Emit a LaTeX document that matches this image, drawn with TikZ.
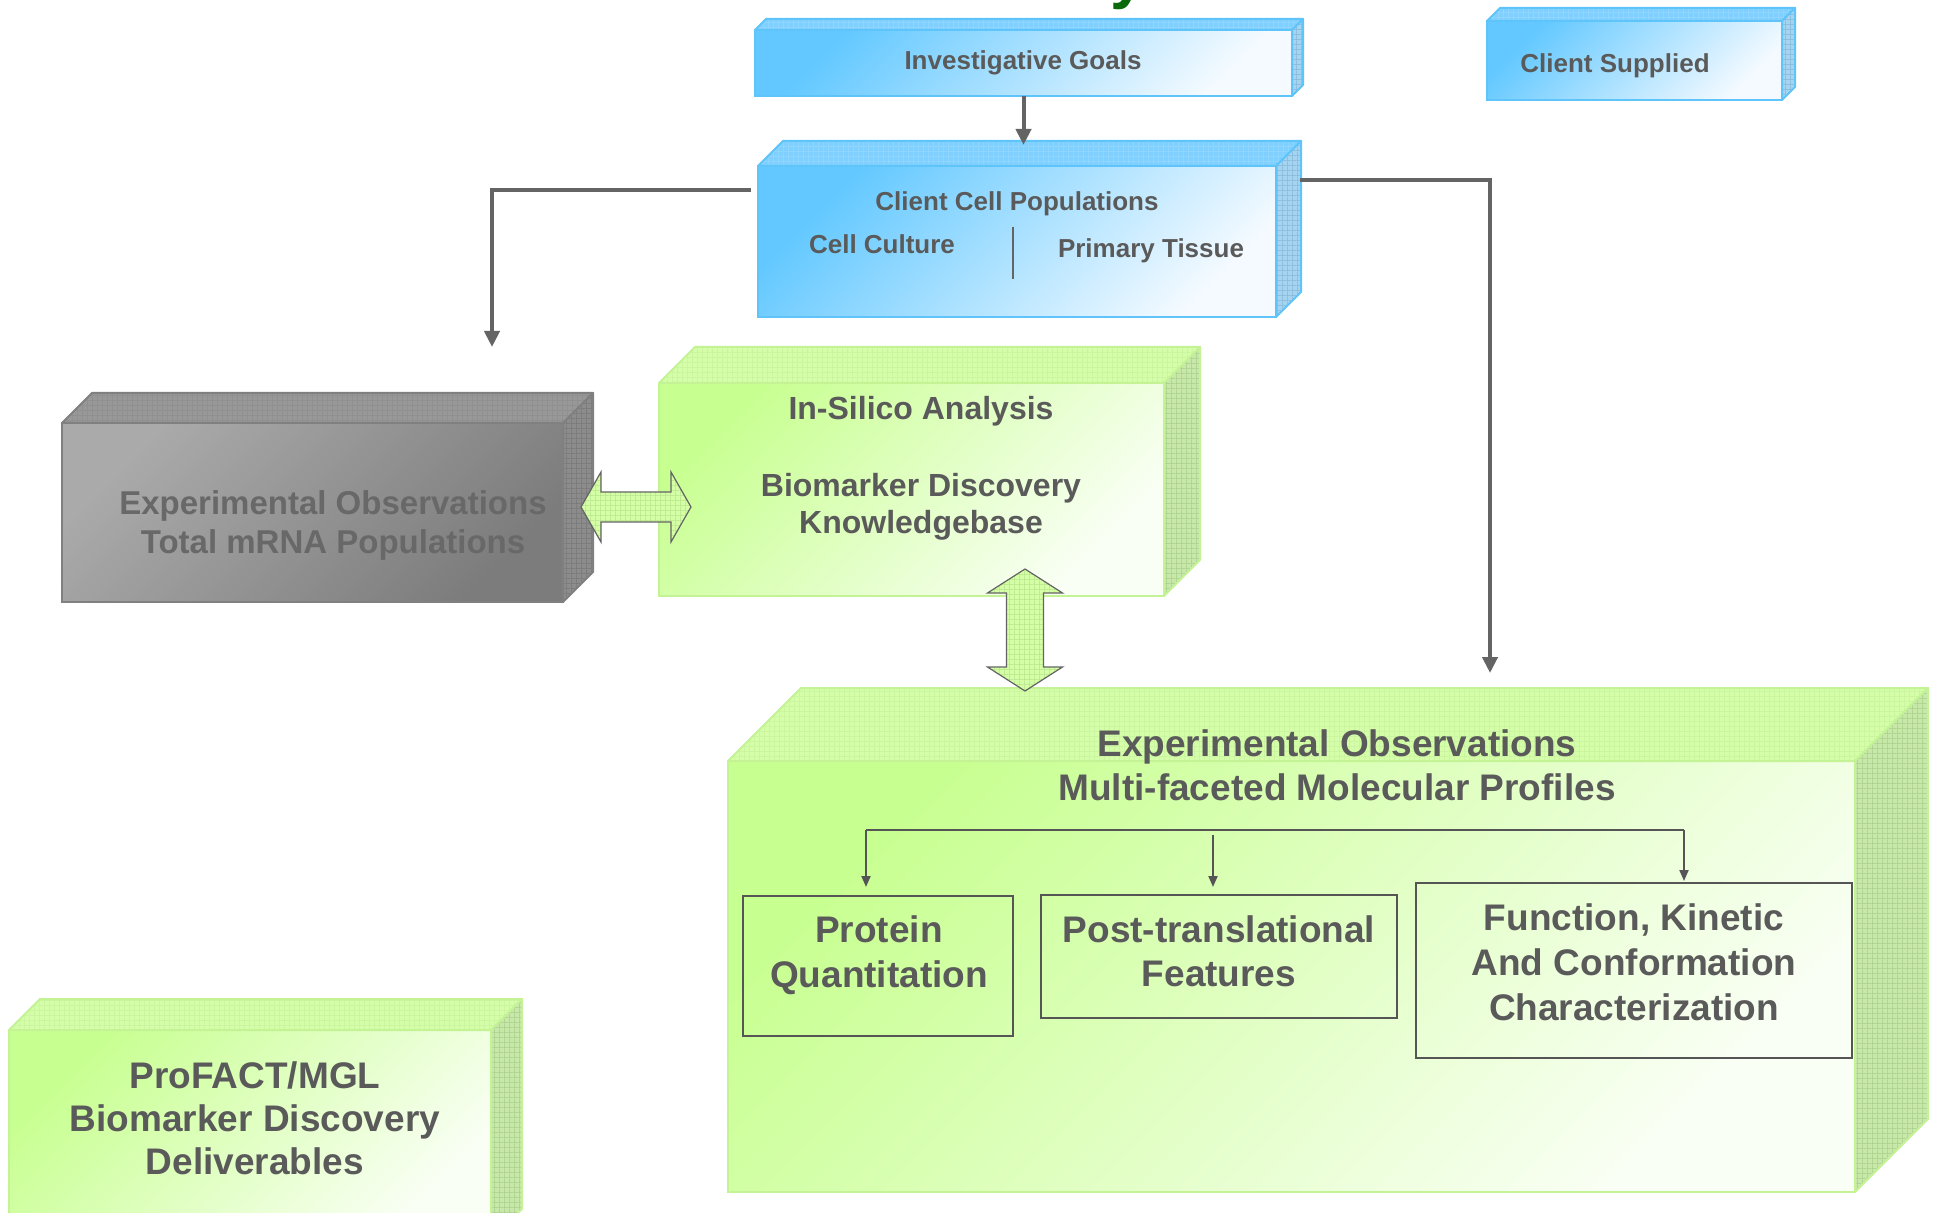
\documentclass[tikz,border=0pt]{standalone}
\usepackage{fontspec}
\setmainfont{Liberation Sans}
\usetikzlibrary{arrows.meta,patterns,calc}

% fine screen used on the receding faces of the solid boxes
\pgfdeclarepatternformonly{finegrid}{\pgfpointorigin}{\pgfqpoint{2.4pt}{2.4pt}}{\pgfqpoint{2.4pt}{2.4pt}}{%
  \pgfpathrectangle{\pgfpointorigin}{\pgfqpoint{2.4pt}{0.3pt}}%
  \pgfpathrectangle{\pgfpointorigin}{\pgfqpoint{0.3pt}{2.4pt}}%
  \pgfusepath{fill}}

\definecolor{txt}{RGB}{90,90,90}
\definecolor{greytxt}{RGB}{104,104,104}
\definecolor{lnk}{RGB}{100,100,100}
\definecolor{thinlnk}{RGB}{85,85,85}
\definecolor{titlegreen}{RGB}{10,105,10}
% blue family
\definecolor{bluedark}{RGB}{98,200,255}
\definecolor{bluelight}{RGB}{244,250,255}
\definecolor{bluetop}{RGB}{128,208,255}
\definecolor{bluetopgrid}{RGB}{150,218,255}
\definecolor{blueside}{RGB}{165,212,240}
\definecolor{bluesidegrid}{RGB}{130,180,215}
\definecolor{blueedge}{RGB}{95,196,250}
% green family
\definecolor{greendark}{RGB}{200,255,145}
\definecolor{greenlight}{RGB}{250,255,246}
\definecolor{greentop}{RGB}{212,255,168}
\definecolor{greentopgrid}{RGB}{200,240,160}
\definecolor{greenside}{RGB}{200,232,170}
\definecolor{greensidegrid}{RGB}{165,205,135}
\definecolor{greenedge}{RGB}{196,243,150}
% grey family
\definecolor{greydark}{RGB}{124,124,124}
\definecolor{greylight}{RGB}{170,170,170}
\definecolor{greytop}{RGB}{152,152,152}
\definecolor{greytopgrid}{RGB}{140,140,140}
\definecolor{greyside}{RGB}{140,140,140}
\definecolor{greysidegrid}{RGB}{118,118,118}
\definecolor{greyedge}{RGB}{128,128,128}
% arrow fill
\definecolor{arrowfill}{RGB}{212,255,165}
\definecolor{arrowgrid}{RGB}{180,225,140}

\tikzset{
  blue front/.style={draw=blueedge, line width=1pt, top color=bluedark, bottom color=bluelight, shading angle=45},
  blue top/.style={preaction={fill=bluetop}, pattern=finegrid, pattern color=bluetopgrid, draw=blueedge, line width=1pt, line join=round},
  blue side/.style={preaction={fill=blueside}, pattern=finegrid, pattern color=bluesidegrid, draw=blueedge, line width=1pt, line join=round},
  green front/.style={draw=greenedge, line width=1pt, top color=greendark, bottom color=greenlight, shading angle=45},
  green top/.style={preaction={fill=greentop}, pattern=finegrid, pattern color=greentopgrid, draw=greenedge, line width=1pt, line join=round},
  green side/.style={preaction={fill=greenside}, pattern=finegrid, pattern color=greensidegrid, draw=greenedge, line width=1pt, line join=round},
  grey front/.style={draw=greyedge, line width=1pt, top color=greylight, bottom color=greydark, shading angle=45},
  grey top/.style={preaction={fill=greytop}, pattern=finegrid, pattern color=greytopgrid, draw=greyedge, line width=1pt, line join=round},
  grey side/.style={preaction={fill=greyside}, pattern=finegrid, pattern color=greysidegrid, draw=greyedge, line width=1pt, line join=round},
  lbl/.style={text=txt, inner sep=0pt, anchor=base},
  small lbl/.style={lbl, font=\bfseries\fontsize{13}{15}\selectfont},
  mid lbl/.style={lbl, font=\bfseries\fontsize{16}{19}\selectfont},
  grey lbl/.style={lbl, text=greytxt, font=\bfseries\fontsize{16.5}{19}\selectfont},
  big lbl/.style={lbl, font=\bfseries\fontsize{18.5}{22}\selectfont},
  conn/.style={draw=lnk, line width=2pt, -{Triangle[width=7.5pt,length=8pt]}},
  thin conn/.style={draw=thinlnk, line width=1pt},
  thin arrow/.style={thin conn, -{Triangle[width=4.5pt,length=5.5pt]}},
  inbox/.style={draw=thinlnk, line width=1pt, inner sep=0pt, outer sep=0pt},
  fat arrow/.style={preaction={fill=arrowfill}, pattern=finegrid, pattern color=arrowgrid, draw=lnk, line width=0.6pt, line join=miter},
}

% solid box: name, x1, y1, x2, y2 (front face), depth, colour family
\newcommand\solidbox[7]{%
  \node[#7 front, inner sep=0pt, outer sep=0pt,
        minimum width={(#4-#2)*0.5pt}, minimum height={(#5-#3)*0.5pt}]
        (#1) at ({(#2+#4)/2},{(#3+#5)/2}) {};
  \path[#7 top] (#1.north west) -- ++(#6,-#6) -- ($(#1.north east)+(#6,-#6)$)
        -- (#1.north east) -- cycle;
  \path[#7 side] (#1.north east) -- ++(#6,-#6) -- ($(#1.south east)+(#6,-#6)$)
        -- (#1.south east) -- cycle;
}

\begin{document}
\begin{tikzpicture}[x=0.5pt, y=-0.5pt]
\useasboundingbox (0,0) rectangle (1937,1213);
\fill[white] (0,0) rectangle (1937,1213);
\clip (0,0) rectangle (1937,1213);

% heading, only its descender falls inside the sheet
\node[font=\bfseries\fontsize{32}{36}\selectfont, text=titlegreen, anchor=base west, inner sep=0pt]
  (heading) at (1110,-3) {y};

% solid boxes
\solidbox{ig}{755}{30}{1292}{96}{11}{blue}
\solidbox{cs}{1487}{21}{1782}{100}{13}{blue}
\solidbox{ccp}{758}{166}{1276}{317}{25}{blue}
\solidbox{mrna}{62}{423}{563}{602}{30}{grey}
\solidbox{isa}{659}{383}{1164}{596}{36}{green}
\solidbox{mol}{728}{761}{1855}{1192}{73}{green}
\solidbox{del}{9}{1030}{491}{1240}{31}{green}

% box texts
\node[small lbl] (igL) at (1023,70) {Investigative Goals};
\node[small lbl] (csL) at (1615,73) {Client Supplied};
\node[small lbl] (ccpL1) at (1017,211) {Client Cell Populations};
\node[small lbl] (ccpL2) at (882,254) {Cell Culture};
\node[small lbl] (ccpL3) at (1151,258) {Primary Tissue};
\draw[draw=lnk, line width=1pt] (1013,227) -- (1013,279);

\node[grey lbl] (mrnaL1) at (333,515) {Experimental Observations};
\node[grey lbl] (mrnaL2) at (333,553) {Total mRNA Populations};

\node[mid lbl] (isaL1) at (921,420) {In-Silico Analysis};
\node[mid lbl] (isaL2) at (921,497) {Biomarker Discovery};
\node[mid lbl] (isaL3) at (921,534) {Knowledgebase};

\node[big lbl] (molL1) at (1337,756) {Experimental Observations};
\node[big lbl] (molL2) at (1337,800) {Multi-faceted Molecular Profiles};

\node[big lbl] (delL1) at (255,1088) {ProFACT/MGL};
\node[big lbl] (delL2) at (255,1131) {Biomarker Discovery};
\node[big lbl] (delL3) at (255,1174) {Deliverables};

% profile boxes inside the molecular profile block
\node[inbox, minimum width={(1013-743)*0.5pt}, minimum height={(1036-896)*0.5pt}]
  (pq) at ({(743+1013)/2},{(896+1036)/2}) {};
\node[inbox, minimum width={(1397-1041)*0.5pt}, minimum height={(1018-895)*0.5pt}]
  (ptf) at ({(1041+1397)/2},{(895+1018)/2}) {};
\node[inbox, minimum width={(1852-1416)*0.5pt}, minimum height={(1058-883)*0.5pt}]
  (fkc) at ({(1416+1852)/2},{(883+1058)/2}) {};

\node[big lbl] (pqL1) at (879,942) {Protein};
\node[big lbl] (pqL2) at (879,987) {Quantitation};
\node[big lbl] (ptfL1) at (1219,942) {Post-translational};
\node[big lbl] (ptfL2) at (1219,986) {Features};
\node[big lbl] (fkcL1) at (1634,930) {Function, Kinetic};
\node[big lbl] (fkcL2) at (1634,975) {And Conformation};
\node[big lbl] (fkcL3) at (1634,1020) {Characterization};

% branching into the three profile boxes
\coordinate (brL) at (866,830);
\coordinate (brR) at (1684,830);
\coordinate (brM) at (1213,835);
\draw[thin conn] (brL) -- (brR);
\draw[thin arrow] (brL) -- ($(brL |- pq.north)+(0,-9)$);
\draw[thin arrow] (brM) -- ($(brM |- ptf.north)+(0,-8)$);
\draw[thin arrow] (brR) -- ($(brR |- fkc.north)+(0,-2)$);

% flow connectors
\coordinate (mrnaIn) at (492,347);
\coordinate (molIn) at (1490,673);
\draw[conn] (ig.south) -- ($(ig.south |- ccp.north)+(0,-21)$);
\draw[conn] ($(ccp.north west)+(-7,24)$) -| (mrnaIn);
\draw[conn] ($(ccp.north east)+(24,14)$) -| (molIn);

% two-way block arrows
\path[fat arrow] (581,507) -- (601,472) -- (601,492) -- (671,492) -- (671,472)
  -- (691,507) -- (671,542) -- (671,522) -- (601,522) -- (601,542) -- cycle;
\path[fat arrow] (1025,569) -- (1062.5,593) -- (1043.5,593) -- (1043.5,667)
  -- (1062.5,667) -- (1025,691) -- (987.5,667) -- (1006.5,667) -- (1006.5,593)
  -- (987.5,593) -- cycle;
\end{tikzpicture}
\end{document}
